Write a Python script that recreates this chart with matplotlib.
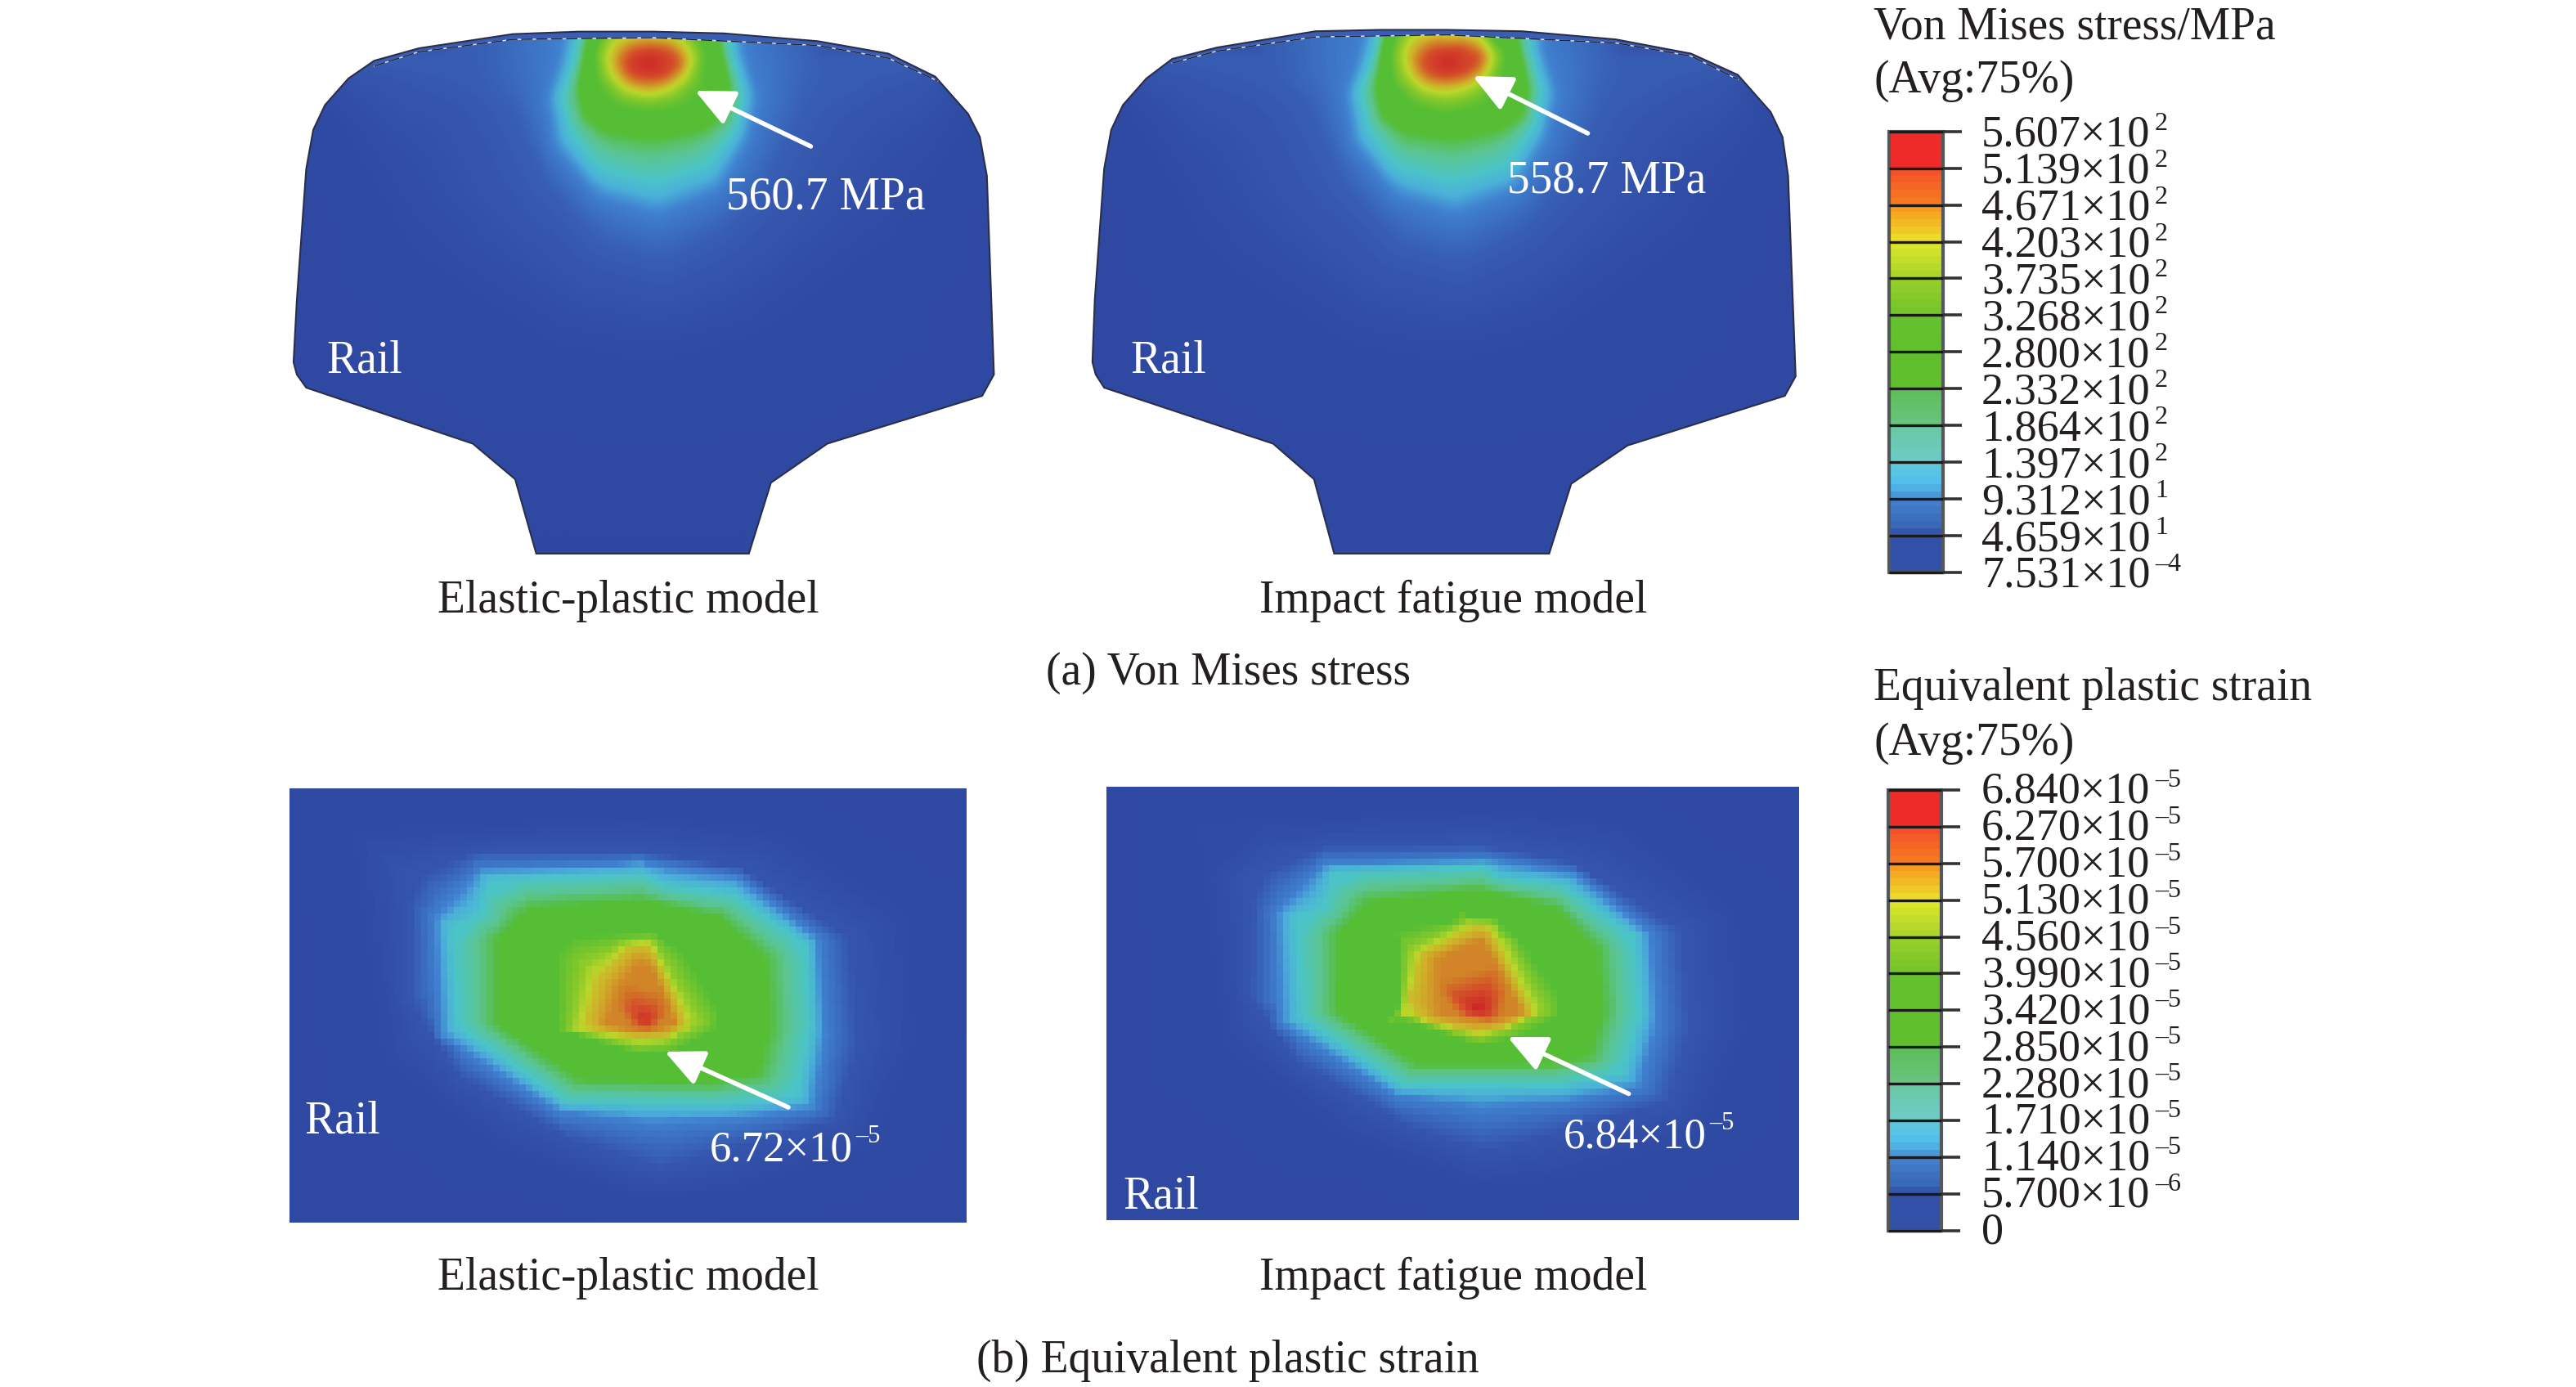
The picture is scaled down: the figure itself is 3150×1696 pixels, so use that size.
import matplotlib
matplotlib.use("Agg")
import matplotlib.pyplot as plt
import matplotlib.tri as mtri
import numpy as np
from matplotlib.colors import LinearSegmentedColormap
from matplotlib.patches import Polygon, Rectangle

plt.rcParams['font.family'] = ['Liberation Serif', 'DejaVu Serif']

# legend tick labels
stress_mant = ['5.607', '5.139', '4.671', '4.203', '3.735', '3.268', '2.800', '2.332', '1.864', '1.397', '9.312', '4.659', '7.531']
stress_exp = ['2', '2', '2', '2', '2', '2', '2', '2', '2', '2', '1', '1', '\u20134']
strain_mant = ['6.840', '6.270', '5.700', '5.130', '4.560', '3.990', '3.420', '2.850', '2.280', '1.710', '1.140', '5.700', '0']
strain_exp = ['\u20135', '\u20135', '\u20135', '\u20135', '\u20135', '\u20135', '\u20135', '\u20135', '\u20135', '\u20135', '\u20135', '\u20136', None]

# colours of the legend and of the plotted fields, position on the scale
legend_stops = [0, 1, 1.05, 2, 2.05, 2.5, 3, 3.05, 4, 4.05, 5, 5.05, 6, 7, 7.05, 8, 8.05, 9, 9.05, 10, 10.05, 11, 11.05, 12]
legend_cols = ['#3350A8', '#3350A8', '#3763B5', '#4585D0', '#4BA3DF', '#55C4EC', '#63C9D5', '#6DCDC6', '#6AC8A0', '#68C47F', '#5DBF55', '#5FBF2D',
               '#62C02D', '#66C12D', '#75C52C', '#97CF2A', '#A8D32C', '#DFE72A', '#EBE22A', '#F8981F', '#F78020', '#F5502A', '#EF2B29', '#EF2B29']
field_stops = [0, 0.05, 0.13, 0.19, 0.25, 0.32, 0.38, 0.5, 0.6, 0.7, 0.78, 0.86, 0.93, 1]
field_cols = ['#2F48A2', '#3555AC', '#4080CF', '#4BB0DA', '#4BC4C8', '#5CC48E', '#55BE35', '#55BE35', '#86C92A', '#BDD72B', '#CFB22A',
              '#D27F28', '#D5482A', '#CB2228']

# rail outlines, crop coordinates
rail1_u = [550, 505, 415, 60, 40, 33, 40, 60, 75, 100, 150, 205, 300, 500, 640, 800, 950, 1150, 1300, 1400, 1470, 1495, 1510, 1525, 1500, 1170, 1050, 1003]
rail1_v = [1515, 1305, 1205, 1047, 1010, 975, 800, 430, 320, 250, 175, 125, 90, 50, 43, 43, 48, 70, 105, 170, 275, 340, 450, 1010, 1070, 1205, 1315, 1515]
rail1_top_u = [205, 300, 500, 800, 1150, 1300, 1405]
rail1_top_v = [140, 100, 65, 60, 82, 118, 182]
rail2_u = [560, 517, 430, 70, 52, 45, 50, 70, 85, 110, 160, 215, 310, 520, 660, 800, 960, 1160, 1320, 1420, 1490, 1515, 1527, 1543, 1520, 1185, 1065, 1018]
rail2_v = [1515, 1305, 1205, 1047, 1010, 975, 800, 430, 320, 250, 175, 120, 88, 42, 38, 38, 42, 65, 105, 165, 270, 340, 450, 1015, 1070, 1210, 1318, 1515]
rail2_top_u = [215, 310, 520, 800, 1160, 1320, 1420]
rail2_top_v = [132, 98, 58, 52, 75, 112, 178]

# contour rings of the fields: level, then u and v of the vertices
corners_u = [-150, 1750, 1750, -150]
corners_v = [-150, -150, 1700, 1700]

stress1_rings = [
    (1.0, [790], [130]),
    (0.93, [735, 755, 800, 845, 855, 830, 790, 750], [130, 100, 90, 105, 135, 170, 180, 170]),
    (0.70, [700, 720, 800, 850, 885, 870, 830, 790, 745, 712], [115, 62, 35, 60, 115, 170, 210, 222, 210, 170]),
    (0.55, [680, 700, 880, 900, 890, 850, 790, 730, 690], [110, 40, 40, 110, 180, 235, 250, 235, 180]),
    (0.38, [640, 660, 670, 930, 940, 965, 955, 900, 800, 700, 650], [200, 60, 20, 20, 60, 200, 280, 320, 340, 325, 280]),
    (0.25, [605, 630, 645, 640, 965, 960, 990, 975, 920, 800, 680, 625], [230, 130, 40, 20, 20, 90, 220, 320, 420, 470, 430, 330]),
    (0.13, [575, 600, 615, 985, 990, 1020, 1000, 940, 810, 680, 590], [230, 130, 20, 20, 100, 230, 350, 490, 560, 510, 370]),
    (0.07, [500, 400, 200, 200, 1350, 1350, 1150, 1110, 1040, 950, 820, 690, 570], [250, 130, 110, 20, 20, 120, 130, 280, 470, 600, 690, 640, 470]),
    (0.012, [150, 50, 50, 1480, 1450, 1300, 1000, 800, 600, 300], [300, 150, 20, 20, 300, 600, 880, 950, 900, 650]),
    (0.0, corners_u, corners_v),
]
stress2_rings = [
    (0.995, [800], [130]),
    (0.93, [745, 770, 820, 870, 870, 840, 795, 755], [125, 95, 85, 105, 135, 165, 175, 160]),
    (0.70, [708, 725, 810, 870, 900, 880, 835, 795, 750, 720], [110, 55, 30, 60, 115, 175, 205, 215, 205, 165]),
    (0.55, [685, 705, 880, 915, 900, 860, 800, 740, 695], [110, 35, 35, 110, 180, 235, 255, 235, 180]),
    (0.38, [650, 665, 680, 945, 950, 975, 965, 910, 810, 710, 660], [200, 60, 20, 20, 60, 200, 280, 320, 340, 325, 280]),
    (0.25, [615, 640, 660, 650, 975, 975, 1000, 985, 930, 810, 690, 635], [210, 130, 40, 20, 20, 90, 210, 310, 420, 465, 425, 320]),
    (0.13, [585, 610, 630, 1000, 1005, 1035, 1010, 950, 820, 690, 600], [220, 130, 20, 20, 100, 220, 350, 490, 560, 505, 360]),
    (0.07, [510, 410, 210, 210, 1360, 1360, 1160, 1120, 1050, 960, 830, 700, 580], [250, 130, 110, 20, 20, 120, 130, 280, 470, 600, 690, 640, 470]),
    (0.012, [160, 60, 60, 1500, 1460, 1310, 1010, 810, 610, 310], [300, 150, 20, 20, 300, 600, 880, 950, 900, 650]),
    (0.0, corners_u, corners_v),
]
strain1_rings = [
    (0.97, [815], [830]),
    (0.85, [760, 800, 825, 860, 880, 820, 730], [720, 640, 640, 760, 840, 865, 845]),
    (0.75, [710, 780, 825, 885, 905, 860, 790, 680], [690, 575, 570, 760, 845, 885, 885, 850]),
    (0.62, [680, 770, 830, 880, 940, 860, 800, 650], [640, 565, 550, 690, 840, 905, 915, 860]),
    (0.5, [610, 830, 900, 1000, 880, 800, 620], [545, 530, 600, 840, 935, 945, 860]),
    (0.38, [560, 810, 980, 1080, 1090, 1060, 960, 670, 490, 490], [450, 420, 480, 620, 850, 1010, 1040, 1030, 840, 550]),
    (0.25, [470, 810, 860, 1010, 1170, 1180, 1150, 990, 640, 400, 385, 450], [350, 330, 370, 400, 570, 830, 1090, 1115, 1110, 850, 510, 470]),
    (0.13, [450, 820, 1020, 1200, 1215, 1190, 1000, 820, 620, 360, 345], [310, 295, 340, 550, 880, 1130, 1170, 1180, 1140, 880, 480]),
    (0.05, [290, 450, 800, 1030, 1270, 1290, 1240, 1050, 850, 650, 400, 290], [340, 250, 250, 310, 550, 900, 1170, 1250, 1340, 1240, 1020, 760]),
    (0.012, [180, 800, 1100, 1380, 1400, 1300, 1000, 800, 500, 250], [200, 150, 200, 480, 900, 1250, 1400, 1420, 1250, 950]),
    (0.0, corners_u, corners_v),
]
strain2_rings = [
    (1.0, [855], [795]),
    (0.85, [765, 860, 880, 950, 880, 770], [620, 560, 600, 800, 835, 810]),
    (0.75, [725, 850, 880, 975, 910, 850, 690], [600, 510, 520, 805, 855, 870, 810]),
    (0.62, [700, 830, 900, 1000, 920, 860, 680], [590, 490, 500, 800, 860, 890, 810]),
    (0.5, [670, 880, 950, 1060, 940, 860, 680], [520, 470, 560, 800, 890, 920, 830]),
    (0.38, [610, 860, 1030, 1120, 1130, 1100, 1010, 720, 540, 545], [430, 390, 450, 590, 800, 950, 980, 980, 800, 530]),
    (0.25, [530, 870, 900, 1040, 1200, 1215, 1175, 1040, 680, 460, 445, 510], [330, 310, 345, 370, 540, 800, 1010, 1050, 1050, 820, 480, 440]),
    (0.13, [510, 870, 1070, 1240, 1255, 1215, 1050, 860, 670, 410, 400], [295, 280, 330, 530, 830, 1060, 1110, 1130, 1090, 840, 460]),
    (0.05, [350, 510, 860, 1060, 1310, 1330, 1280, 1090, 870, 690, 450, 340], [340, 235, 230, 290, 520, 860, 1110, 1190, 1280, 1190, 980, 750]),
    (0.012, [240, 860, 1160, 1420, 1440, 1340, 1050, 860, 560, 300], [170, 120, 170, 470, 860, 1200, 1350, 1380, 1210, 900]),
    (0.0, corners_u, corners_v),
]

legend_cmap = LinearSegmentedColormap.from_list('legend', list(zip(np.array(legend_stops) / 12, legend_cols)), N=60)
field_cmap = LinearSegmentedColormap.from_list('field', list(zip(field_stops, field_cols)), N=256)

fig = plt.figure(figsize=(31.5, 16.96), dpi=100)
ax = fig.add_axes([0, 0, 1, 1])
ax.axis('off')


# crop coordinates back to picture pixels
def to_px(u, v, crop):
    x0, y0, sx, sy = crop
    return x0 + np.array(u) / sx, y0 + np.array(v) / sy


# extra points along each ring edge, keeps the triangles between neighbouring rings
def densify(ru, rv, n=5):
    if len(ru) < 3:
        return list(ru), list(rv)
    t = np.arange(len(ru) + 1)
    s = np.arange(0, len(ru), 1 / n)
    return list(np.interp(s, t, list(ru) + [ru[0]])), list(np.interp(s, t, list(rv) + [rv[0]]))


def blur(z, size):
    kernel = np.ones(size) / size
    pad = np.pad(z, size, mode='edge')
    pad = np.apply_along_axis(lambda r: np.convolve(r, kernel, mode='same'), 0, pad)
    pad = np.apply_along_axis(lambda r: np.convolve(r, kernel, mode='same'), 1, pad)
    return pad[size:-size, size:-size]


def draw_field(rings, crop, extent, step, clip=None):
    uu, vv, vals = [], [], []
    for level, ru, rv in rings:
        du, dv = densify(ru, rv)
        uu += du
        vv += dv
        vals += [level] * len(du)
    px, py = to_px(uu, vv, crop)
    interp = mtri.LinearTriInterpolator(mtri.Triangulation(px, py), np.array(vals))
    x0, x1, y0, y1 = extent
    xs = np.arange(x0 + step / 2, x1, step)
    ys = np.arange(y0 + step / 2, y1, step)
    gx, gy = np.meshgrid(xs, ys)
    z = np.ma.filled(interp(gx, gy), 0.0)
    if clip is not None:
        z = blur(blur(z, 5), 5)
    im = ax.imshow(z, cmap=field_cmap, vmin=0, vmax=1, extent=(x0, x1, y1, y0), origin='upper',
                   aspect='auto', interpolation='bilinear' if clip is not None else 'nearest')
    if clip is not None:
        im.set_clip_path(clip)


def draw_rail(u, v, top_u, top_v, rings, crop):
    px, py = to_px(u, v, crop)
    outline = Polygon(np.column_stack([px, py]), closed=True, facecolor='none', edgecolor='#2a2e48', lw=1.5, zorder=3)
    ax.add_patch(outline)
    draw_field(rings, crop, (px.min() - 2, px.max() + 2, py.min() - 2, py.max() + 2), 3, clip=outline)
    # thin band at the top of the head
    tx, ty = to_px(top_u, top_v, crop)
    top = [i for i in range(len(u)) if v[i] < 130 and 2 < i < len(u) - 3]
    band = np.column_stack([np.r_[tx[0], px[top], tx[-1], tx[::-1]], np.r_[ty[0], py[top], ty[-1], ty[::-1]]])
    ax.add_patch(Polygon(band, closed=True, facecolor='#3A5DB4', edgecolor='none', zorder=2.5))
    ax.plot(tx, ty, color='#d8dce8', lw=1.1, zorder=3)
    ax.plot(tx, ty, color='#20243a', lw=1.1, ls=(0, (9, 3)), zorder=3.1)


def arrow(tip, tail):
    ax.annotate('', xy=tip, xytext=tail, zorder=5, annotation_clip=False,
                arrowprops=dict(arrowstyle='-|>,head_length=0.6,head_width=0.28', color='white', lw=4,
                                mutation_scale=48, shrinkA=0, shrinkB=0))


def txt(x, y, s, color='#231f20', size=40):
    ax.text(x, y, s, color=color, fontsize=size, ha='left', va='baseline', zorder=6)


# number with a raised power of ten
def sci(x, y, mant, exp, color='#231f20', size=39, adv=212, up=20, exp_size=23):
    txt(x, y, mant + '\u00d710', color, size)
    txt(x + adv, y - up, exp, color, exp_size)


def colorbar(x0, x1, xt, y0, y1, xl, dy, mant, exps):
    grad = np.linspace(1, 0, 60).reshape(-1, 1)
    ax.imshow(grad, cmap=legend_cmap, vmin=0, vmax=1, extent=(x0, x1, y1, y0), aspect='auto', interpolation='nearest', zorder=2)
    ax.add_patch(Rectangle((x0, y0), x1 - x0, y1 - y0, facecolor='none', edgecolor='#55585a', lw=3, zorder=3))
    ticks = np.linspace(y0, y1, len(mant))
    for y, m, e in zip(ticks, mant, exps):
        ax.plot([x0, x1], [y, y], color='#1a1a1a', lw=2.4, zorder=4, solid_capstyle='butt')
        ax.plot([x1, xt], [y, y], color='#333333', lw=2.6, zorder=4, solid_capstyle='butt')
        if e is None:
            txt(xl, y + dy, m, size=39)
        else:
            sci(xl, y + dy, m, e)


crop_r1 = (340, 20, 1.742, 2.306)
crop_r2 = (1310, 20, 1.742, 2.306)
crop_s1 = (340, 950, 1.823, 2.8)
crop_s2 = (1340, 950, 1.823, 2.8)

draw_rail(rail1_u, rail1_v, rail1_top_u, rail1_top_v, stress1_rings, crop_r1)
draw_rail(rail2_u, rail2_v, rail2_top_u, rail2_top_v, stress2_rings, crop_r2)
draw_field(strain1_rings, crop_s1, (354, 1182, 964, 1495), 8)
draw_field(strain2_rings, crop_s2, (1353, 2200, 962, 1492), 8)

arrow((850, 111), (991.5, 179))
arrow((1801, 93), (1941.5, 163))
arrow((813, 1286), (964, 1354))
arrow((1843.6, 1268), (1991.7, 1337.5))

txt(399, 456, 'Rail', 'white')
txt(1382, 456, 'Rail', 'white')
txt(372, 1386, 'Rail', 'white')
txt(1373, 1477, 'Rail', 'white')
txt(888, 255, '560.7 MPa', 'white')
txt(1843, 236, '558.7 MPa', 'white')
sci(868, 1419, '6.72', '\u20135', 'white', size=38, adv=178, up=22, exp_size=22)
sci(1912, 1403, '6.84', '\u20135', 'white', size=38, adv=178, up=22, exp_size=22)

txt(535, 749, 'Elastic-plastic model')
txt(1540, 749, 'Impact fatigue model')
txt(1279, 837, '(a) Von Mises stress')
txt(535, 1577, 'Elastic-plastic model')
txt(1540, 1577, 'Impact fatigue model')
txt(1194, 1678, '(b) Equivalent plastic strain')

txt(2291, 47, 'Von Mises stress/MPa')
txt(2291, 113, '(Avg:75%)')
txt(2291, 856, 'Equivalent plastic strain')
txt(2291, 923, '(Avg:75%)')
colorbar(2310, 2376, 2399, 160.7, 700, 2423, 18, stress_mant, stress_exp)
colorbar(2309, 2374, 2397, 966, 1504.6, 2423, 16, strain_mant, strain_exp)

ax.set_xlim(0, 3150)
ax.set_ylim(1696, 0)
fig.savefig('out.png', dpi=100, facecolor='white')
